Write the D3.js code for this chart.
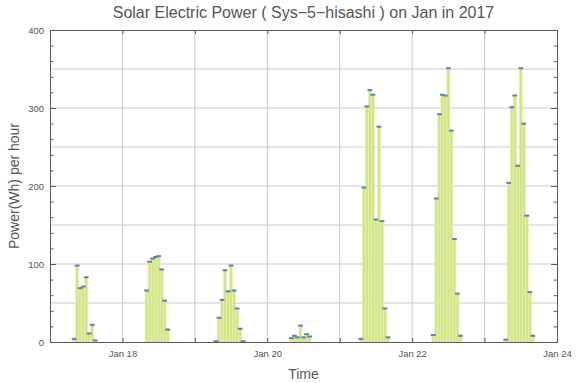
<!DOCTYPE html>
<html>
<head>
<meta charset="utf-8">
<script src="https://cdn.jsdelivr.net/npm/d3@7"></script>
<style>
html,body{margin:0;padding:0;background:#fff;}
svg{display:block;font-family:"Liberation Sans",Arial,Helvetica,sans-serif;}
</style>
</head>
<body>
<svg id="chart" width="576" height="383"></svg>
<script>
// ---- data (hourly energy, Wh) ----
const dayDates = ["2017-01-17","2017-01-18","2017-01-19","2017-01-20","2017-01-21","2017-01-22","2017-01-23"];
const startHours = [8, 8, 7, 8, 7, 7, 7];
const jan17 = [4, 98, 69, 71, 83, 11, 22, 2];
const jan18 = [66, 103, 107, 109, 110, 93, 53, 16];
const jan19 = [1, 31, 54, 92, 65, 98, 66, 43, 17, 1];
const jan20 = [5, 8, 6, 21, 6, 10, 7];
const jan21 = [4, 198, 302, 323, 317, 157, 276, 155, 43, 6];
const jan22 = [9, 184, 292, 317, 316, 351, 271, 132, 62, 8];
const jan23 = [3, 204, 301, 316, 226, 351, 280, 162, 64, 8];
const dayValues = [jan17, jan18, jan19, jan20, jan21, jan22, jan23];
const yTicks = [0, 100, 200, 300, 400];
const xTickDays = ["2017-01-18","2017-01-20","2017-01-22","2017-01-24"];
const xDomain = ["2017-01-17","2017-01-24"];
const titleText = "Solar Electric Power ( Sys\u22125\u2212hisashi ) on Jan in 2017";
const xLabel = "Time";
const yLabel = "Power(Wh) per hour";

const parse = s => { const [y,m,d] = s.split("-").map(Number); return new Date(Date.UTC(y, m-1, d)); };
const HOUR = 3600*1000;

const points = [];
dayDates.forEach((ds, i) => {
  const base = parse(ds).getTime();
  dayValues[i].forEach((v, k) => {
    points.push({t: new Date(base + (startHours[i] + k) * HOUR), v});
  });
});

// ---- layout ----
const L = 50, R = 557, T = 30, B = 342;
const svg = d3.select("#chart");
const x = d3.scaleUtc().domain(xDomain.map(parse)).range([L, R]);
const y = d3.scaleLinear().domain([0, 400]).range([B, T]);
const frameColor = "#5a5a5a", gridColor = "#c9c9c9", textColor = "#555";

// gridlines
svg.append("g").selectAll("line").data(d3.range(50, 400, 50)).join("line")
  .attr("x1", L).attr("x2", R).attr("y1", d => y(d)).attr("y2", d => y(d))
  .attr("stroke", gridColor).attr("stroke-width", 1);
svg.append("g").selectAll("line").data(d3.utcDay.range(x.domain()[0], x.domain()[1]).slice(1)).join("line")
  .attr("y1", T).attr("y2", B).attr("x1", d => x(d)).attr("x2", d => x(d))
  .attr("stroke", gridColor).attr("stroke-width", 1);

// bars
const bw = x(new Date(HOUR)) - x(new Date(0));
svg.append("g").selectAll("rect").data(points).join("rect")
  .attr("x", d => x(new Date(d.t.getTime() - HOUR/2)))
  .attr("width", bw)
  .attr("y", d => y(d.v))
  .attr("height", d => y(0) - y(d.v))
  .attr("fill", "#d2e688")
  .attr("stroke", "#e6f0b8")
  .attr("stroke-width", 0.6);
// caps
svg.append("g").selectAll("rect").data(points).join("rect")
  .attr("x", d => x(d.t) - 2.4)
  .attr("width", 4.8)
  .attr("y", d => y(d.v) - 1)
  .attr("height", 2)
  .attr("fill", "#5d82b3");

// axes (frame with ticks)
const axB = d3.axisBottom(x).tickValues(d3.utcDay.range(parse("2017-01-18"), parse("2017-01-25")))
  .tickSize(-4).tickPadding(8)
  .tickFormat(d => xTickDays.includes(d3.utcFormat("%Y-%m-%d")(d)) ? d3.utcFormat("%b %d")(d) : "");
const gB = svg.append("g").attr("transform", `translate(0,${B})`).call(axB);
const axT = d3.axisTop(x).tickValues(d3.utcDay.range(parse("2017-01-18"), parse("2017-01-24"))).tickSize(-4).tickFormat("");
const gT = svg.append("g").attr("transform", `translate(0,${T})`).call(axT);
const axL = d3.axisLeft(y).tickValues(yTicks).tickSize(-6).tickPadding(6);
const gL = svg.append("g").attr("transform", `translate(${L},0)`).call(axL);
const axLm = d3.axisLeft(y).tickValues(d3.range(20, 400, 20).filter(v => v % 100)).tickSize(-3.5).tickFormat("");
const gLm = svg.append("g").attr("transform", `translate(${L},0)`).call(axLm);
const axR = d3.axisRight(y).tickValues(yTicks).tickSize(-6).tickFormat("");
const gR = svg.append("g").attr("transform", `translate(${R},0)`).call(axR);
const axRm = d3.axisRight(y).tickValues(d3.range(20, 400, 20).filter(v => v % 100)).tickSize(-3.5).tickFormat("");
const gRm = svg.append("g").attr("transform", `translate(${R},0)`).call(axRm);

[gB, gT, gL, gLm, gR, gRm].forEach(g => {
  g.select(".domain").attr("stroke", frameColor);
  g.selectAll(".tick line").attr("stroke", frameColor);
  g.selectAll("text").attr("fill", textColor).style("font-size", "9.5px")
    .style("font-family", "'Liberation Sans',Arial,sans-serif");
});

// labels
svg.append("text").attr("x", (L + R) / 2).attr("y", 18).attr("text-anchor", "middle")
  .attr("fill", textColor).style("font-size", "16px").text(titleText);
svg.append("text").attr("x", (L + R) / 2).attr("y", 379).attr("text-anchor", "middle")
  .attr("fill", textColor).style("font-size", "14px").text(xLabel);
svg.append("text").attr("transform", `translate(19,${(T + B) / 2}) rotate(-90)`).attr("text-anchor", "middle")
  .attr("fill", textColor).style("font-size", "14px").text(yLabel);
</script>
</body>
</html>
